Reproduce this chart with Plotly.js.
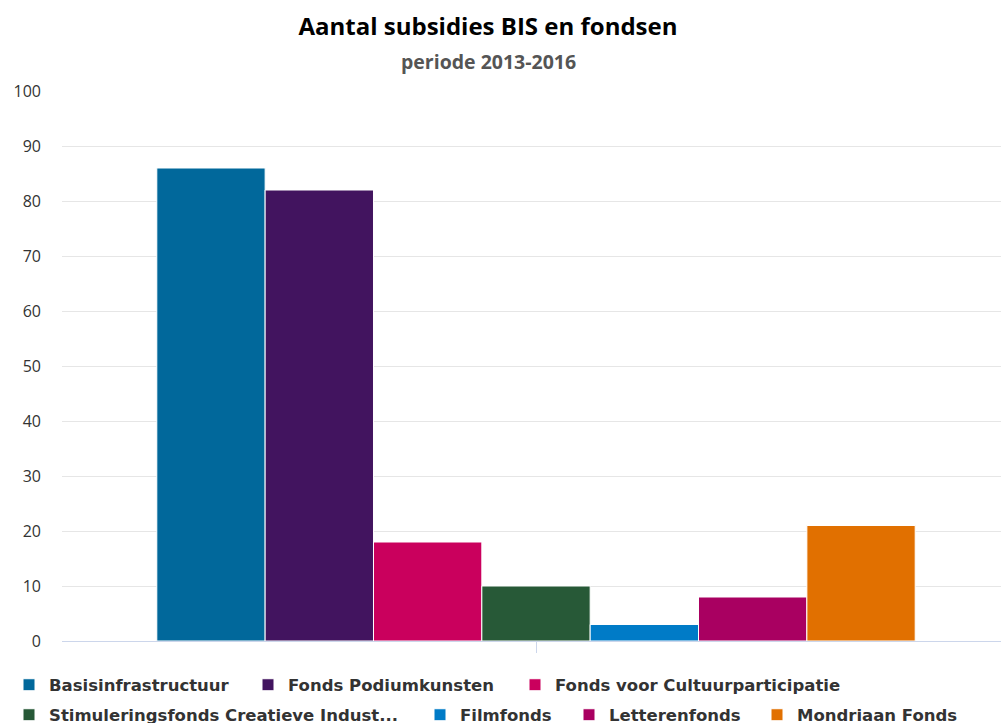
<!DOCTYPE html>
<html>
<head>
<meta charset="utf-8">
<script src="https://cdn.plot.ly/plotly-3.0.1.min.js"></script>
<style>html,body{margin:0;padding:0;background:#fff;overflow:hidden;}</style>
</head>
<body>
<div id="chart" style="width:1001px;height:723px;"></div>
<script>
const category = ["periode 2013-2016"];
const seriesNames = [
  "Basisinfrastructuur",
  "Fonds Podiumkunsten",
  "Fonds voor Cultuurparticipatie",
  "Stimuleringsfonds Creatieve Indust...",
  "Filmfonds",
  "Letterenfonds",
  "Mondriaan Fonds"
];
const seriesValues = [86, 82, 18, 10, 3, 8, 21];
const seriesColors = ["#01689B", "#42145F", "#CA005D", "#275937", "#007BC7", "#A90061", "#E17000"];
const yTicks = [0, 10, 20, 30, 40, 50, 60, 70, 80, 90, 100];

// legend entry placement (pixels): text-left x, text-centre y
const legendX = [49, 288, 555, 49, 460, 609, 797];
const legendY = [685, 685, 685, 715, 715, 715, 715];

const W = 1001, H = 723;
const legendIds = seriesNames.map((n, i) => i === 0 ? "legend" : "legend" + (i + 1));

const traces = seriesNames.map((name, i) => ({
  type: "bar",
  name: name,
  x: category,
  y: [seriesValues[i]],
  legend: legendIds[i],
  marker: {color: seriesColors[i], line: {color: "#ffffff", width: 1}},
  hoverinfo: "name+y"
}));

const legendFont = {family: "DejaVu Sans, Verdana, sans-serif", size: 16.5, color: "#333333", weight: "bold"};

const layout = {
  width: W,
  height: H,
  paper_bgcolor: "#ffffff",
  plot_bgcolor: "#ffffff",
  margin: {l: 62, r: 0, t: 91, b: 82, pad: 0},
  barmode: "group",
  bargap: 0.2,
  bargroupgap: 0,
  showlegend: true,
  title: {
    text: "Aantal subsidies BIS en fondsen",
    x: 488 / W, xref: "container", xanchor: "center",
    y: 1 - 27 / H, yref: "container", yanchor: "middle",
    font: {family: "Open Sans, Noto Sans, sans-serif", size: 24, color: "#000000", weight: "bold"}
  },
  annotations: [{
    text: "periode 2013-2016",
    xref: "paper", yref: "paper",
    x: (488 - 62) / 939, y: 1 + (91 - 61) / 550,
    xanchor: "center", yanchor: "middle",
    showarrow: false,
    font: {family: "Open Sans, Noto Sans, sans-serif", size: 19.5, color: "#555555", weight: "bold"}
  }],
  xaxis: {
    type: "category",
    range: [-0.5, -0.5 + 939 / 948],
    showticklabels: false,
    showgrid: false,
    zeroline: false,
    showline: false,
    ticks: "outside",
    ticklen: 11,
    tickwidth: 1,
    tickcolor: "#ccd6eb",
    fixedrange: true
  },
  yaxis: {
    range: [0, 100],
    tickvals: yTicks,
    showgrid: true,
    gridcolor: "#e6e6e6",
    gridwidth: 1,
    zeroline: true,
    zerolinecolor: "#ccd6eb",
    zerolinewidth: 1,
    showline: false,
    ticks: "",
    ticklabelstandoff: 20,
    tickfont: {family: "Open Sans, Noto Sans, sans-serif", size: 16, color: "#333333"},
    fixedrange: true
  }
};

legendIds.forEach((id, i) => {
  layout[id] = {
    orientation: "h",
    x: (legendX[i] - 40) / W, xref: "container", xanchor: "left",
    y: 1 - legendY[i] / H, yref: "container", yanchor: "middle",
    font: legendFont,
    bgcolor: "rgba(0,0,0,0)",
    borderwidth: 0,
    itemclick: false,
    itemdoubleclick: false
  };
});

Plotly.newPlot("chart", traces, layout, {displayModeBar: false, responsive: false});
</script>
</body>
</html>
